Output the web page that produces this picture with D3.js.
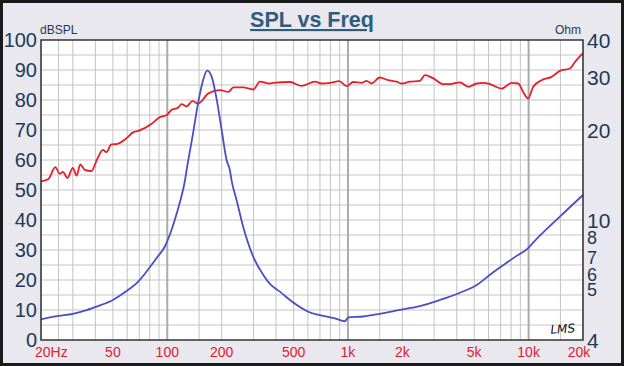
<!DOCTYPE html>
<html><head><meta charset="utf-8">
<script src="https://cdn.jsdelivr.net/npm/d3@7"></script>
<style>html,body{margin:0;padding:0;background:#e8e8ee;}svg{display:block;}</style>
</head><body>
<svg id="c" width="624" height="366"></svg>
<script>
// ---- data ----
const splFreq = [20,22,24,25.4,26.5,28,30,31.5,33,35,38,41,44,46,49,53,59,65,69,82,91,99,105,115,120,128,138,148,169,196,218,232,263,299,326,370,386,478,554,657,715,795,895,984,1070,1190,1270,1350,1500,1670,1860,1980,2200,2500,2670,2970,3370,3670,4170,4630,5160,5610,6110,7090,8050,8760,9330,9950,10600,11800,13400,14900,16900,18400,20000];
const splDb   = [52.9,53.7,57.6,55.4,56,54,57.4,54.8,58.5,56.7,56.3,60.4,63.4,62.6,65.2,65.4,67.1,69.3,69.7,72.1,74.3,74.9,76.6,77.5,78.6,77.9,79.7,78.8,82.2,83.3,82.7,84.2,84.2,83.5,86.1,85.5,85.7,86,84.7,86.1,85.5,85.7,86.3,84.6,86,85.7,86.4,85.5,87.5,86.6,86.1,85.5,86.1,86.4,88.3,87.2,85.3,85.3,85.9,84.4,85.5,85.7,85.3,83.8,85.7,85.5,82.7,80.5,84.4,86.6,87.7,89.7,90.5,93.3,95.6];
const impFreq = [20,25,30,35,40.5,50,59,69,80,89,97,102,110,117,125,128,139,148,158,166,176,188,200,213,222,227,242,263,299,340,370,420,498,603,730,847,963,1004,1215,1500,1940,2500,3230,4170,5160,6110,7230,8500,9950,10600,14900,20000];
const impOhm  = [4.69,4.81,4.89,5.01,5.17,5.44,5.80,6.26,6.99,7.62,8.2,8.8,10.05,11.42,13.5,14.75,19.6,24.6,29.4,31.6,30.2,25.2,20.05,15.9,14.75,13.6,11.7,9.54,7.58,6.59,6.15,5.80,5.33,4.97,4.81,4.72,4.62,4.76,4.79,4.89,5.04,5.19,5.44,5.75,6.10,6.6,7.1,7.6,8.1,8.45,10.31,12.17];
const xTickVals = [20,50,100,200,500,1000,2000,5000,10000,20000];
const xTickText = ["20Hz","50","100","200","500","1k","2k","5k","10k","20k"];
const xGridVals = [20,25,30,40,50,60,70,80,90,100,150,200,300,400,500,600,700,800,900,1000,1500,2000,3000,4000,5000,6000,7000,8000,9000,10000,15000,20000];
const yLeftTicks = [0,10,20,30,40,50,60,70,80,90,100];
const yRightTicks = [4,5,6,7,8,10,20,30,40];

// ---- layout ----
const W=624,H=366, L=41, R=583, T=40, B=340;
const svg=d3.select("#c");
svg.append("rect").attr("x",1.5).attr("y",1.5).attr("width",W-3).attr("height",H-3)
  .attr("fill","#e8e8ee").attr("stroke","#1a1a1a").attr("stroke-width",3);

const x=d3.scaleLog().domain([20,20000]).range([L,R]);
const yL=d3.scaleLinear().domain([0,100]).range([B,T]);
const yR=d3.scaleLog().domain([4,40]).range([B,T]);

svg.append("rect").attr("x",L).attr("y",T).attr("width",R-L).attr("height",B-T).attr("fill","#fff");

// grid
const g=svg.append("g");
g.selectAll("line.h").data(d3.range(5,100,5)).join("line")
  .attr("x1",L).attr("x2",R).attr("y1",d=>yL(d)).attr("y2",d=>yL(d))
  .attr("stroke","#c4c4c4").attr("stroke-width",1);
g.selectAll("line.v").data(xGridVals).join("line")
  .attr("y1",T).attr("y2",B).attr("x1",d=>x(d)).attr("x2",d=>x(d))
  .attr("stroke",d=>[100,1000,10000].includes(d)?"#ababab":"#c4c4c4")
  .attr("stroke-width",d=>[100,1000,10000].includes(d)?2:1);

// curves
const lineSpl=d3.line().x((d,i)=>x(splFreq[i])).y(d=>yL(d)).curve(d3.curveMonotoneX);
svg.append("path").attr("d",lineSpl(splDb)).attr("fill","none").attr("stroke","#e3212b").attr("stroke-width",1.8);
const lineImp=d3.line().x((d,i)=>x(impFreq[i])).y(d=>yR(d)).curve(d3.curveMonotoneX);
svg.append("path").attr("d",lineImp(impOhm)).attr("fill","none").attr("stroke","#4b4fc2").attr("stroke-width",1.8);

// frame
svg.append("rect").attr("x",L).attr("y",T).attr("width",R-L).attr("height",B-T)
  .attr("fill","none").attr("stroke","#333").attr("stroke-width",1.5);

// axes labels
const navy="#1e3a5a";
svg.selectAll("text.yl").data(yLeftTicks).join("text")
  .attr("x",37).attr("y",d=>yL(d)).attr("dy","0.36em").attr("text-anchor","end")
  .attr("font-family","Liberation Sans, Arial, sans-serif").attr("font-size",20).attr("fill",navy).text(d=>d);
// the source program packs the sub-10 labels upward; reproduce that label layout
const rightLabelShift = v => v>=10 || v===4 ? 0 : (v===8 ? -12 : v===7 ? -10 : v===6 ? -13 : -21);
svg.selectAll("text.yr").data(yRightTicks).join("text")
  .attr("x",587).attr("y",d=>yR(d)+rightLabelShift(d)).attr("dy","0.36em").attr("text-anchor","start")
  .attr("font-family","Liberation Sans, Arial, sans-serif")
  .attr("font-size",d=>(d<10&&d>4)?18:21).attr("fill",navy).text(d=>d);
svg.selectAll("text.xl").data(xTickVals).join("text")
  .attr("x",(d,i)=> i===0 ? x(d)-6 : (i===xTickVals.length-1 ? x(d)-4 : x(d)))
  .attr("y",357).attr("text-anchor",(d,i)=>i===0?"start":"middle")
  .attr("font-family","Liberation Sans, Arial, sans-serif").attr("font-size",14).attr("fill","#e0202e")
  .text((d,i)=>xTickText[i]);

svg.append("text").attr("x",40).attr("y",34).attr("font-family","Liberation Sans, Arial, sans-serif")
  .attr("font-size",12).attr("fill",navy).text("dBSPL");
svg.append("text").attr("x",581).attr("y",34).attr("text-anchor","end").attr("font-family","Liberation Sans, Arial, sans-serif")
  .attr("font-size",12).attr("fill",navy).text("Ohm");

svg.append("text").attr("x",312).attr("y",27).attr("text-anchor","middle")
  .attr("font-family","Liberation Sans, Arial, sans-serif").attr("font-weight","bold").attr("font-size",21.5)
  .attr("fill","#2f5c7c").attr("text-decoration","underline").text("SPL vs Freq");

svg.append("text").attr("x",563).attr("y",333).attr("text-anchor","middle")
  .attr("font-family","DejaVu Sans, sans-serif").attr("font-style","italic").attr("font-size",12)
  .attr("fill","#111").attr("transform","rotate(-4,563,333)").text("LMS");
</script>
</body></html>
